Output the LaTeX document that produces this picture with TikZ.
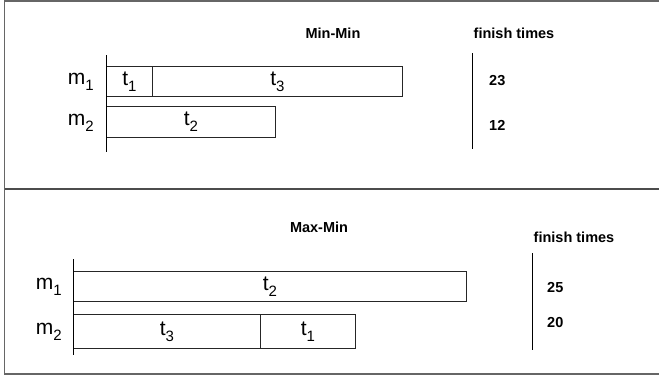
\documentclass[tikz,border=0pt]{standalone}
\usepackage{fontspec}
\setmainfont{Liberation Sans}
\newcommand{\sublbl}[2]{#1\raisebox{-6pt}{\fontsize{15}{15}\selectfont #2}}
\tikzset{
  frameline/.style={draw=black!60, line width=1.5pt},
  seg/.style={draw=black!85, line width=1pt, rectangle, inner sep=0pt,
    anchor=north west, font=\fontsize{21}{21}\selectfont},
  axisline/.style={draw=black, line width=1pt},
  mlabel/.style={anchor=east, inner sep=0pt, font=\fontsize{21}{21}\selectfont},
  head/.style={inner sep=0pt, font=\bfseries\fontsize{14.5}{15}\selectfont},
  val/.style={inner sep=0pt, anchor=west, font=\bfseries\fontsize{14.5}{15}\selectfont},
}
\begin{document}
\begin{tikzpicture}[x=1pt, y=-1pt]
\useasboundingbox (0,0) rectangle (659,380);

% outer frame and divider
\coordinate (ftl) at (4.5,1);
\coordinate (ftr) at (660,1);
\coordinate (fbl) at (4.5,374);
\coordinate (fbr) at (660,374);
\coordinate (dl) at (4.5,189);
\coordinate (dr) at (660,189);
\draw[frameline] (ftr) -- (ftl) -- (fbl) -- (fbr);
\draw[frameline, draw=black!70, line width=2pt] (dl) -- (dr);

% ---- Min-Min schedule ----
\node[head] (mmhead) at (333,33) {Min-Min};
\node[head] (ft1) at (514,33) {finish times};

\node[seg, minimum width=46, minimum height=30] (a1) at (106,66) {\sublbl{t}{1}};
\node[seg, minimum width=250, minimum height=30] (a3) at (152,66) {\sublbl{t}{3}};
\node[seg, minimum width=169, minimum height=31] (a2) at (106,106) {\sublbl{t}{2}};

\coordinate (axA1) at (106,55);
\coordinate (axA2) at (106,152);
\draw[axisline] (axA1) -- (axA2);

\node[mlabel] (am1) at (94,82) {\sublbl{m}{1}};
\node[mlabel] (am2) at (94,123) {\sublbl{m}{2}};

\coordinate (sepA1) at (472,53);
\coordinate (sepA2) at (472,149);
\draw[axisline] (sepA1) -- (sepA2);
\node[val] (v23) at (489,81) {23};
\node[val] (v12) at (489,125) {12};

% ---- Max-Min schedule ----
\node[head] (mxhead) at (319,227) {Max-Min};
\node[head] (ft2) at (574,237) {finish times};

\node[seg, minimum width=393, minimum height=30] (b2) at (73,271) {\sublbl{t}{2}};
\node[seg, minimum width=187, minimum height=34] (b3) at (73,314) {\sublbl{t}{3}};
\node[seg, minimum width=95, minimum height=34] (b1) at (260,314) {\sublbl{t}{1}};

\coordinate (axB1) at (73,259);
\coordinate (axB2) at (73,355);
\draw[axisline] (axB1) -- (axB2);

\node[mlabel] (bm1) at (62,287) {\sublbl{m}{1}};
\node[mlabel] (bm2) at (62,332) {\sublbl{m}{2}};

\coordinate (sepB1) at (532,253);
\coordinate (sepB2) at (532,350);
\draw[axisline] (sepB1) -- (sepB2);
\node[val] (v25) at (547,288) {25};
\node[val] (v20) at (547,323) {20};
\end{tikzpicture}
\end{document}
